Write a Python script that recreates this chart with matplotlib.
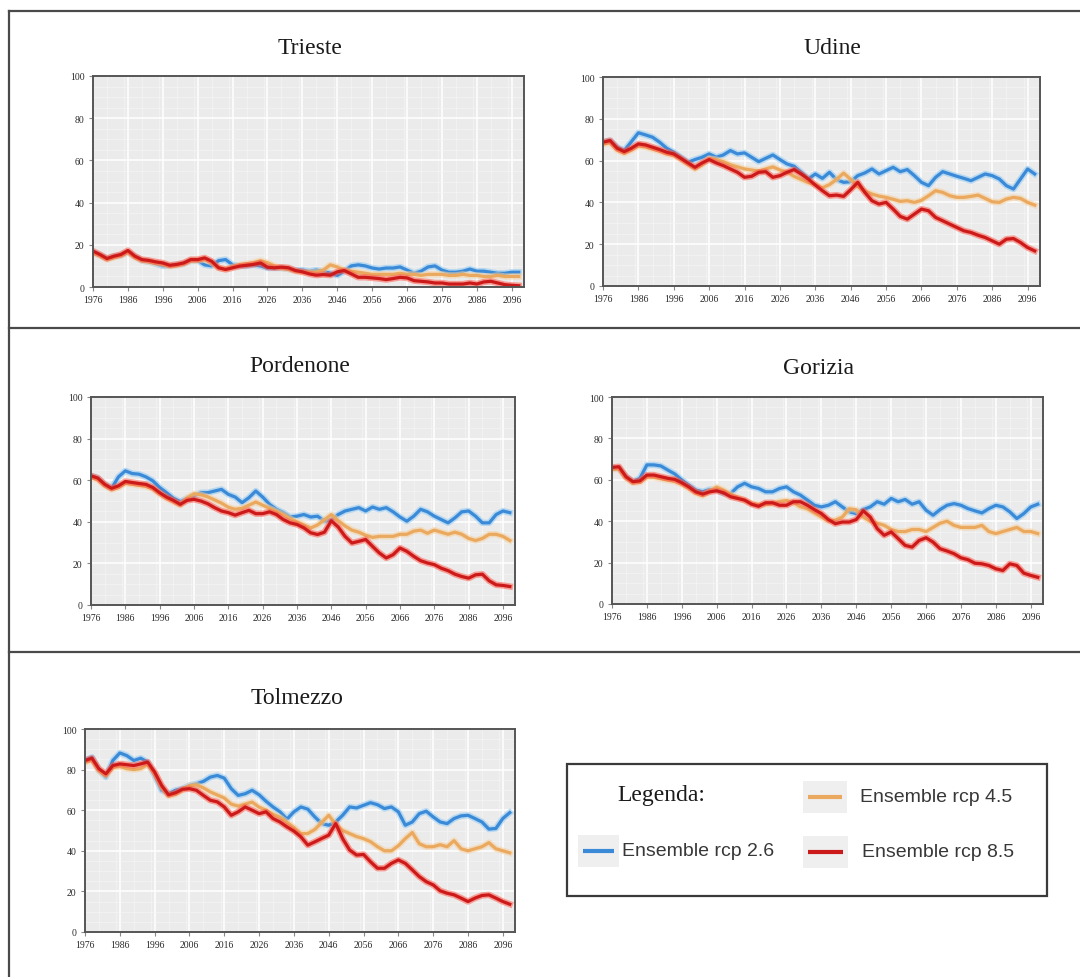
import matplotlib
matplotlib.use("Agg")
import matplotlib.pyplot as plt
from matplotlib.lines import Line2D
from matplotlib.patches import Rectangle
from matplotlib.ticker import MultipleLocator
import matplotlib.patheffects as pe

W, H = 1080, 978

# ---------------- data ----------------
years = list(range(1976, 2099, 2))
xtick_years = list(range(1976, 2097, 10))
ytick_values = [0, 20, 40, 60, 80, 100]
series_labels = ["Ensemble rcp 2.6", "Ensemble rcp 4.5", "Ensemble rcp 8.5"]
stations = ["Trieste", "Udine", "Pordenone", "Gorizia", "Tolmezzo"]

trieste_rcp26 = [16.5, 15, 13.5, 14.5, 15, 16.5, 14.5, 12.5, 12, 11, 10, 10, 10.5, 11, 12.5, 12.5,
                 10.5, 10, 12.5, 13, 10.5, 10, 10, 10.5, 10, 9, 9, 9, 8.5, 8, 8, 7.5, 8, 7.5, 6.5,
                 5.5, 7.5, 10, 10.5, 10, 9, 8.5, 9, 9, 9.5, 8, 6.5, 7.5, 9.5, 10, 8, 7, 7, 7.5,
                 8.5, 7.5, 7.5, 7, 6.5, 6.5, 7, 7]
trieste_rcp45 = [16, 14.8, 13, 14, 14.8, 16.5, 14, 12.5, 12, 11.3, 10.8, 9.8, 10.2, 11, 12.5, 12.5,
                 13, 11.5, 9, 8.5, 9.5, 10.5, 11, 11.5, 12.5, 11.5, 10, 9, 8.5, 7.5, 7, 7, 7, 8,
                 10.5, 9.5, 8, 7.5, 7, 6.5, 6, 6, 6, 6, 6.5, 6, 6, 5.5, 6, 6, 6, 5.5, 5.5, 6, 5.5,
                 5.5, 5, 5, 5.5, 5, 5, 5]
trieste_rcp85 = [17, 15.4, 13.5, 14.6, 15.4, 17.3, 14.6, 13, 12.6, 11.9, 11.4, 10.3, 10.7, 11.4, 13,
                 13, 13.8, 12.2, 9.1, 8.3, 9.1, 9.9, 10.3, 10.7, 11.4, 9.4, 9.1, 9.4, 9.1, 7.8, 7.2,
                 6.2, 5.6, 5.9, 5.6, 7.2, 7.8, 6.2, 4.6, 4.6, 4.3, 4, 3.5, 4, 4.6, 4.3, 3, 2.7, 2.4,
                 1.9, 1.9, 1.4, 1.4, 1.4, 1.9, 1.4, 2.4, 2.7, 1.9, 1.1, 0.8, 0.6]

udine_rcp26 = [68.8, 69.6, 66.4, 64.8, 69, 73.3, 72.3, 71.2, 68.8, 65.9, 64, 61.6, 59.2, 60.5, 61.6,
               63.2, 61.6, 62.7, 64.8, 63.2, 63.7, 61.6, 59.5, 61.1, 62.7, 60.5, 58.4, 57.3, 54.4,
               51.2, 53.6, 51.5, 54.4, 50.9, 49.6, 49.9, 52.8, 54.1, 56, 53.6, 55.2, 56.8, 54.7,
               55.7, 52.8, 49.6, 48, 52, 54.7, 53.6, 52.5, 51.5, 50.4, 52, 53.6, 52.8, 51.2, 48,
               46.4, 51.2, 56, 53.6]
udine_rcp45 = [67.8, 68.6, 65, 63.5, 65, 67, 66.5, 65.5, 64.5, 63.2, 62.5, 60.5, 58.2, 56, 58, 61,
               60.5, 59.5, 58, 57, 56, 55.5, 55, 56, 57, 55.5, 54.5, 52.5, 51, 49.5, 48.5, 47, 48.5,
               51, 54, 51, 47.5, 45.5, 44, 43, 42.4, 41.5, 40.5, 40.8, 40, 41, 43.2, 45.6, 44.8,
               43.2, 42.4, 42.4, 42.9, 43.5, 41.9, 40.3, 40, 41.6, 42.4, 41.9, 40, 38.7]
udine_rcp85 = [68.8, 69.6, 65.9, 64.3, 65.9, 68, 67.5, 66.4, 65.3, 64, 63.2, 61.1, 58.9, 56.8, 58.9,
               60.5, 58.9, 57.6, 56, 54.4, 52, 52.5, 54.4, 54.7, 52, 52.8, 54.4, 55.7, 53.6, 51.2,
               48.3, 45.6, 43.2, 43.5, 42.9, 46.1, 49.6, 44.8, 40.8, 39.2, 40, 36.8, 33.3, 32, 34.4,
               36.8, 36, 32.8, 31.2, 29.6, 28, 26.4, 25.6, 24.3, 23.2, 21.6, 20, 22.4, 22.7, 20.8,
               18.4, 16.8]

pordenone_rcp26 = [62.1, 61, 58, 56.1, 61.6, 64.5, 63.2, 62.9, 61.6, 59.7, 56.5, 54, 51.3, 49.7,
                   51.3, 52.4, 54, 54, 54.8, 55.6, 53.2, 51.9, 49.2, 51.6, 54.8, 51.9, 48.4, 46,
                   44.4, 42.3, 42.7, 43.5, 42.3, 42.7, 40.3, 41, 43.5, 45.2, 46, 46.8, 45.2, 47.1,
                   46, 46.8, 44.8, 42.3, 40.3, 42.7, 46, 44.8, 42.7, 41.1, 39.5, 41.9, 44.8, 45.2,
                   42.7, 39.5, 39.5, 43.5, 45.2, 44.4]
pordenone_rcp45 = [61.3, 60.2, 57.3, 55.5, 56.5, 58.5, 58, 57.5, 57, 55.8, 53.3, 51.2, 49.6, 48,
                   51.5, 53.5, 53, 52, 50.5, 49, 47, 46, 46.5, 48, 49.5, 48, 46.5, 45, 43.5, 41.5,
                   40, 38.5, 37, 38.5, 41, 43.5, 40.5, 38, 36, 35, 33.5, 32.5, 33, 33, 33, 34, 34,
                   35.5, 36, 34.5, 36, 35, 34, 35, 34, 32, 31, 32, 34, 34, 33, 31]
pordenone_rcp85 = [62.1, 61, 58, 56.1, 57.3, 59.4, 58.9, 58.4, 58, 56.5, 54, 51.9, 50.3, 48.4, 50.3,
                   50.8, 50, 48.7, 46.8, 45.2, 44.4, 43.2, 44.4, 45.5, 43.9, 43.9, 44.8, 43.5, 41.1,
                   39.5, 38.7, 37.1, 34.7, 33.9, 35, 40.5, 37.5, 33, 29.8, 30.6, 31.5, 28.2, 25,
                   22.6, 24.2, 27.4, 25.8, 23.4, 21.3, 20.2, 19.4, 17.7, 16.5, 14.8, 13.7, 12.9,
                   14.5, 14.8, 11.6, 9.7, 9.4, 8.9]

gorizia_rcp26 = [65.5, 65.5, 61.5, 59.1, 60.7, 67.2, 67.2, 66.7, 64.7, 62.8, 59.9, 57.4, 55, 54.2,
                 55.3, 55.3, 53.4, 53.4, 56.6, 58.3, 56.6, 55.8, 54.2, 54.2, 55.8, 56.6, 54.2, 52.6,
                 50.2, 47.7, 46.9, 47.7, 49.4, 46.9, 44.5, 43.7, 45.6, 46.9, 49.4, 48.2, 51, 49.4,
                 50.5, 48.2, 49.4, 45.3, 42.9, 45.6, 47.7, 48.5, 47.7, 46.1, 45, 44, 46.1, 47.7,
                 46.9, 44.5, 41.3, 43.7, 46.9, 48.2]
gorizia_rcp45 = [65, 65.2, 60.8, 58.5, 58.8, 61.3, 61.2, 60.5, 59.8, 59.2, 57.8, 55.8, 53.5, 52.3,
                 54.5, 56.5, 55, 53, 51.5, 50, 48.5, 48, 48, 48.5, 49.5, 50, 49, 47, 46, 44, 42, 40,
                 40.5, 42, 46, 45.5, 42, 40, 39, 38, 36, 35, 35, 36, 36, 35, 37, 39, 40, 38, 37, 37,
                 37, 38, 35, 34, 35, 36, 37, 35, 35, 34]
gorizia_rcp85 = [66, 66.3, 61.5, 59.1, 59.5, 62.3, 62.3, 61.5, 60.7, 60.2, 58.6, 56.6, 54.2, 53.1,
                 54.2, 54.7, 53.7, 51.8, 51, 50.2, 48.2, 47.2, 48.9, 48.9, 47.7, 47.7, 49.4, 49.4,
                 47.7, 45.6, 43.7, 40.8, 38.8, 39.6, 39.6, 40.8, 45, 42, 36.4, 33.2, 34.8, 31.6,
                 28.3, 27.5, 30.7, 32, 29.9, 26.7, 25.6, 24.3, 22.3, 21.4, 19.7, 19.4, 18.6, 17,
                 16.2, 19.4, 18.6, 14.9, 13.8, 12.9]

tolmezzo_rcp26 = [84.5, 86.1, 79.6, 76.3, 84.5, 88.2, 86.9, 84.5, 85.6, 83.7, 77.1, 69.8, 68.1,
                  69.8, 70.6, 72.2, 73, 74.2, 76.3, 77.1, 75.8, 70.6, 67.3, 68.1, 69.8, 67.6, 64.4,
                  61.6, 59.2, 55.6, 59.2, 61.6, 60.5, 56.7, 53.4, 52.6, 54.2, 57.5, 61.6, 61.1,
                  62.4, 63.7, 62.7, 60.8, 61.6, 59.2, 52.6, 54.2, 58.3, 59.5, 56.7, 54.2, 53.4,
                  55.9, 57.2, 57.5, 55.9, 54.2, 50.7, 51, 55.9, 58.8]
tolmezzo_rcp45 = [83.5, 84.6, 79.4, 77, 81, 81.5, 80.5, 80, 80.5, 82.5, 78, 71.5, 67, 67.8, 70, 72,
                  72.5, 71, 69, 67.5, 66, 63, 62, 63, 64, 61.5, 60, 58, 56.5, 54, 51.5, 48.5, 48.5,
                  50.5, 54, 57.5, 53, 50, 48.5, 47, 46, 44.5, 42, 40, 40, 42.5, 46, 49, 43.5, 42, 42,
                  43, 42, 45, 41, 40, 41, 42, 44, 41, 40, 39]
tolmezzo_rcp85 = [84.5, 85.6, 80.4, 77.9, 82, 82.8, 82.4, 82, 82.8, 83.7, 78.8, 72.2, 67.6, 68.6,
                  70.3, 70.6, 69.8, 67.3, 64.9, 64.1, 61.6, 57.5, 59.2, 61.6, 60, 58.3, 59.2, 55.9,
                  54.2, 51.8, 49.7, 46.9, 42.8, 44.4, 46.1, 47.7, 53.4, 46, 40.4, 37.9, 38.2, 34.6,
                  31.4, 31.4, 33.8, 35.5, 33.8, 30.6, 27.3, 24.8, 23.2, 20.3, 19.1, 18.3, 16.7, 15,
                  16.7, 18, 18.3, 16.7, 15, 13.7]

station_series = {
    "Trieste": [trieste_rcp26, trieste_rcp45, trieste_rcp85],
    "Udine": [udine_rcp26, udine_rcp45, udine_rcp85],
    "Pordenone": [pordenone_rcp26, pordenone_rcp45, pordenone_rcp85],
    "Gorizia": [gorizia_rcp26, gorizia_rcp45, gorizia_rcp85],
    "Tolmezzo": [tolmezzo_rcp26, tolmezzo_rcp45, tolmezzo_rcp85],
}

# ---------------- style / layout ----------------
line_colors = ["#3a8ad8", "#eaa95e", "#cc1a1a"]
halo_colors = ["#8cc8f5", "#f7cf9c", "#ff5a4a"]
SERIF = ["Liberation Serif", "DejaVu Serif"]
SANS = ["Liberation Sans", "DejaVu Sans"]

# pixel boxes: left, top, right, bottom ; title centre
panel_boxes = {
    "Trieste": ((93, 77, 524, 288), (310, 48)),
    "Udine": ((603, 78, 1040, 287), (832, 48)),
    "Pordenone": ((91, 398, 515, 606), (300, 367)),
    "Gorizia": ((612, 398, 1043, 605), (818, 368)),
    "Tolmezzo": ((85, 730, 515, 933), (297, 699)),
}

fig = plt.figure(figsize=(W / 100, H / 100), dpi=100)
fig.patch.set_facecolor("white")


def fx(x):
    return x / W


def fy(y):
    return 1 - y / H


frame_kw = dict(transform=fig.transFigure, color="#4a4a4a", lw=1.6, zorder=0)
fig.add_artist(Line2D([fx(9), fx(1080)], [fy(12), fy(12)], **frame_kw))
fig.add_artist(Line2D([fx(9), fx(9)], [fy(12), fy(978)], **frame_kw))
fig.add_artist(Line2D([fx(9), fx(1080)], [fy(329), fy(329)], **frame_kw))
fig.add_artist(Line2D([fx(9), fx(1080)], [fy(653), fy(653)], **frame_kw))

for name in stations:
    (l, t, r, b), (tx, ty) = panel_boxes[name]
    ax = fig.add_axes([fx(l), fy(b), (r - l) / W, (b - t) / H])
    ax.set_facecolor("#ebebeb")
    ax.set_xlim(1976, 2099.5)
    ax.set_ylim(0, 100)
    ax.set_xticks(xtick_years)
    ax.set_xticklabels([str(v) for v in xtick_years])
    ax.set_yticks(ytick_values)
    ax.set_yticklabels([str(v) for v in ytick_values])
    ax.xaxis.set_minor_locator(MultipleLocator(5))
    ax.yaxis.set_minor_locator(MultipleLocator(5))
    ax.set_axisbelow(True)
    ax.grid(which="major", color="white", lw=1.1)
    ax.grid(which="minor", color="#f6f6f6", lw=0.45)
    ax.tick_params(which="minor", length=0)
    ax.tick_params(which="major", length=3, width=0.8, color="#888888",
                   labelsize=7, labelcolor="#2a2a2a", pad=3)
    for lab in ax.get_xticklabels() + ax.get_yticklabels():
        lab.set_family(SERIF)
    for sp in ax.spines.values():
        sp.set_color("#555555")
        sp.set_linewidth(1.4)
    for vals, c, hc, lab in zip(station_series[name], line_colors, halo_colors, series_labels):
        ax.plot(years, vals, color=c, lw=2.3, label=lab, solid_joinstyle="round",
                path_effects=[pe.Stroke(linewidth=4.6, foreground=hc, alpha=0.55), pe.Normal()])
    fig.text(fx(tx), fy(ty), name, ha="center", va="center", fontsize=17,
             family=SERIF, color="#1a1a1a")

# ---------------- legend box ----------------
fig.add_artist(Rectangle((fx(567), fy(897)), (1047 - 567) / W, (897 - 765) / H,
                         transform=fig.transFigure, fill=False, ec="#3a3a3a", lw=1.6))
fig.text(fx(617), fy(796), "Legenda:", ha="left", va="center", fontsize=17,
         family=SERIF, color="#1a1a1a")

legend_slots = [  # handle x0, x1, y, text x
    (583, 614, 852, 622),
    (808, 842, 798, 860),
    (808, 843, 853, 862),
]
for (x0, x1, yy, txx), c, lab in zip(legend_slots, line_colors, series_labels):
    fig.add_artist(Rectangle((fx(x0 - 5), fy(yy + 16)), (x1 - x0 + 10) / W, 32 / H,
                             transform=fig.transFigure, fc="#efefef", ec="none"))
    fig.add_artist(Line2D([fx(x0), fx(x1)], [fy(yy), fy(yy)], transform=fig.transFigure,
                          color=c, lw=3.0, solid_capstyle="butt"))
    fig.text(fx(txx), fy(yy), lab, ha="left", va="center", fontsize=14,
             family=SANS, color="#383838")

fig.savefig("out.png", dpi=100)
